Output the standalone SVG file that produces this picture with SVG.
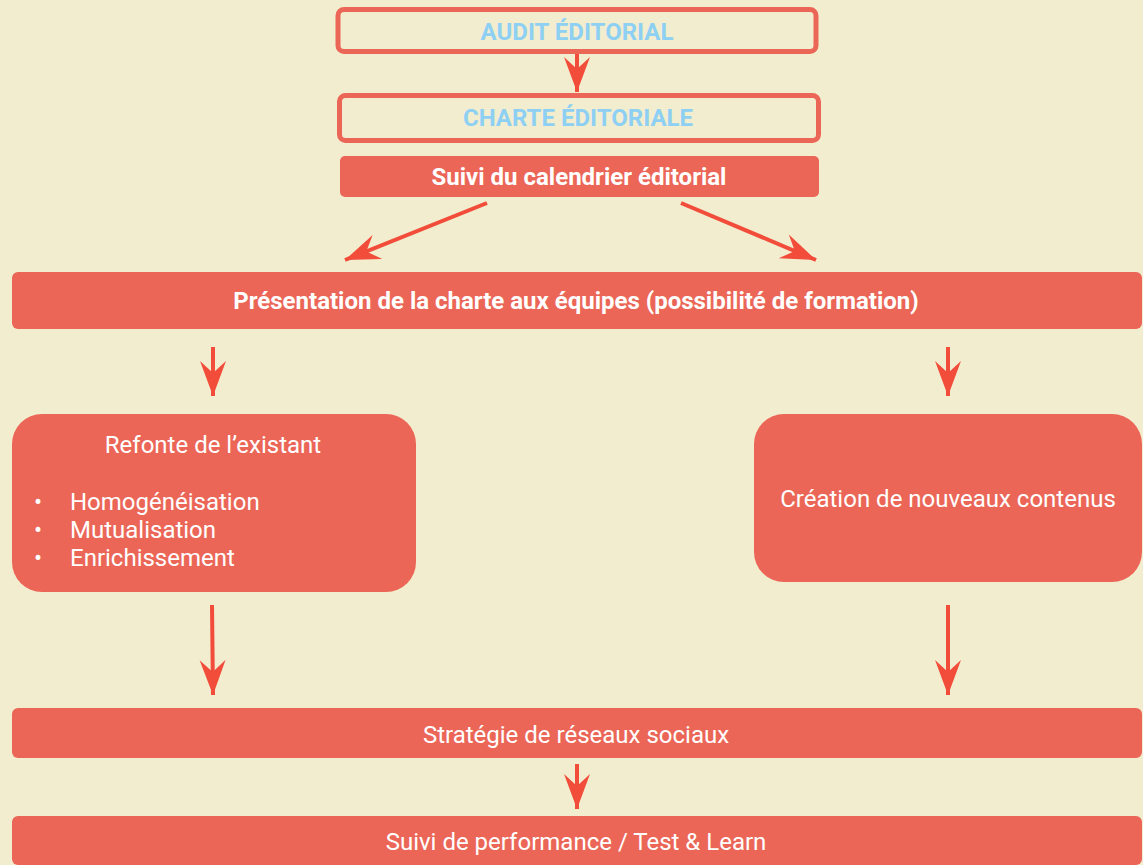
<svg xmlns="http://www.w3.org/2000/svg" width="1143" height="865" viewBox="0 0 1143 865">
<style>
.bg{fill:#F3EDCF}
.out{fill:none;stroke:#EC6657;stroke-width:5}
.fill{fill:#EB6657}
.blue{font-family:Roboto,"Liberation Sans",sans-serif;font-weight:bold;font-size:24px;fill:#8ED0F3;text-anchor:middle}
.bw{font-family:Roboto,"Liberation Sans",sans-serif;font-weight:bold;font-size:24px;fill:#FFFFFF;text-anchor:middle}
.w{font-family:Roboto,"Liberation Sans",sans-serif;font-size:24px;fill:#FFFFFF}
.wm{text-anchor:middle}
.conn{stroke:#F24C3A;stroke-width:4;fill:none}
</style>
<defs>
<marker id="ah" markerUnits="userSpaceOnUse" markerWidth="40" markerHeight="30" viewBox="-36 -15 40 30" refX="0" refY="0" orient="auto">
<path d="M0,0 L-35,-13 L-23,0 L-35,13 Z" fill="#F24C3A"/>
</marker>
</defs>
<rect class="bg" x="0" y="0" width="1143" height="865"/>
<g id="audit">
<rect class="out" x="338" y="9.5" width="478" height="42" rx="6"/>
<text class="blue" x="577" y="40">AUDIT ÉDITORIAL</text>
</g>
<g id="charte">
<rect class="out" x="339.5" y="95.5" width="479" height="45" rx="6"/>
<text class="blue" x="578" y="126">CHARTE ÉDITORIALE</text>
</g>
<g id="calendrier">
<rect class="fill" x="340" y="156" width="479" height="41" rx="5"/>
<text class="bw" x="579" y="185">Suivi du calendrier éditorial</text>
</g>
<g id="presentation">
<rect class="fill" x="12" y="272" width="1130" height="57" rx="6"/>
<text class="bw" x="576" y="309">Présentation de la charte aux équipes (possibilité de formation)</text>
</g>
<g id="refonte">
<rect class="fill" x="12" y="414" width="404" height="178" rx="30"/>
<text class="w wm" x="213" y="453">Refonte de l’existant</text>
<text class="w" x="34" y="510">•</text>
<text class="w" x="70" y="510">Homogénéisation</text>
<text class="w" x="34" y="538">•</text>
<text class="w" x="70" y="538">Mutualisation</text>
<text class="w" x="34" y="566">•</text>
<text class="w" x="70" y="566">Enrichissement</text>
</g>
<g id="creation">
<rect class="fill" x="754" y="414" width="388" height="168" rx="30"/>
<text class="w wm" x="948" y="507">Création de nouveaux contenus</text>
</g>
<g id="strategie">
<rect class="fill" x="12" y="708" width="1130" height="50" rx="6"/>
<text class="w wm" x="576" y="743">Stratégie de réseaux sociaux</text>
</g>
<g id="performance">
<rect class="fill" x="12" y="816" width="1130" height="49" rx="6"/>
<text class="w wm" x="576" y="850">Suivi de performance / Test &amp; Learn</text>
</g>
<g id="connectors">
<line class="conn" x1="577" y1="54" x2="577" y2="92" marker-end="url(#ah)"/>
<line class="conn" x1="487" y1="203" x2="345" y2="260" marker-end="url(#ah)"/>
<line class="conn" x1="681" y1="203" x2="816" y2="260" marker-end="url(#ah)"/>
<line class="conn" x1="213" y1="347" x2="213" y2="396" marker-end="url(#ah)"/>
<line class="conn" x1="948" y1="347" x2="948" y2="396" marker-end="url(#ah)"/>
<line class="conn" x1="212" y1="605" x2="213" y2="695" marker-end="url(#ah)"/>
<line class="conn" x1="948" y1="605" x2="948" y2="695" marker-end="url(#ah)"/>
<line class="conn" x1="577" y1="764" x2="577" y2="809" marker-end="url(#ah)"/>
</g>
</svg>
